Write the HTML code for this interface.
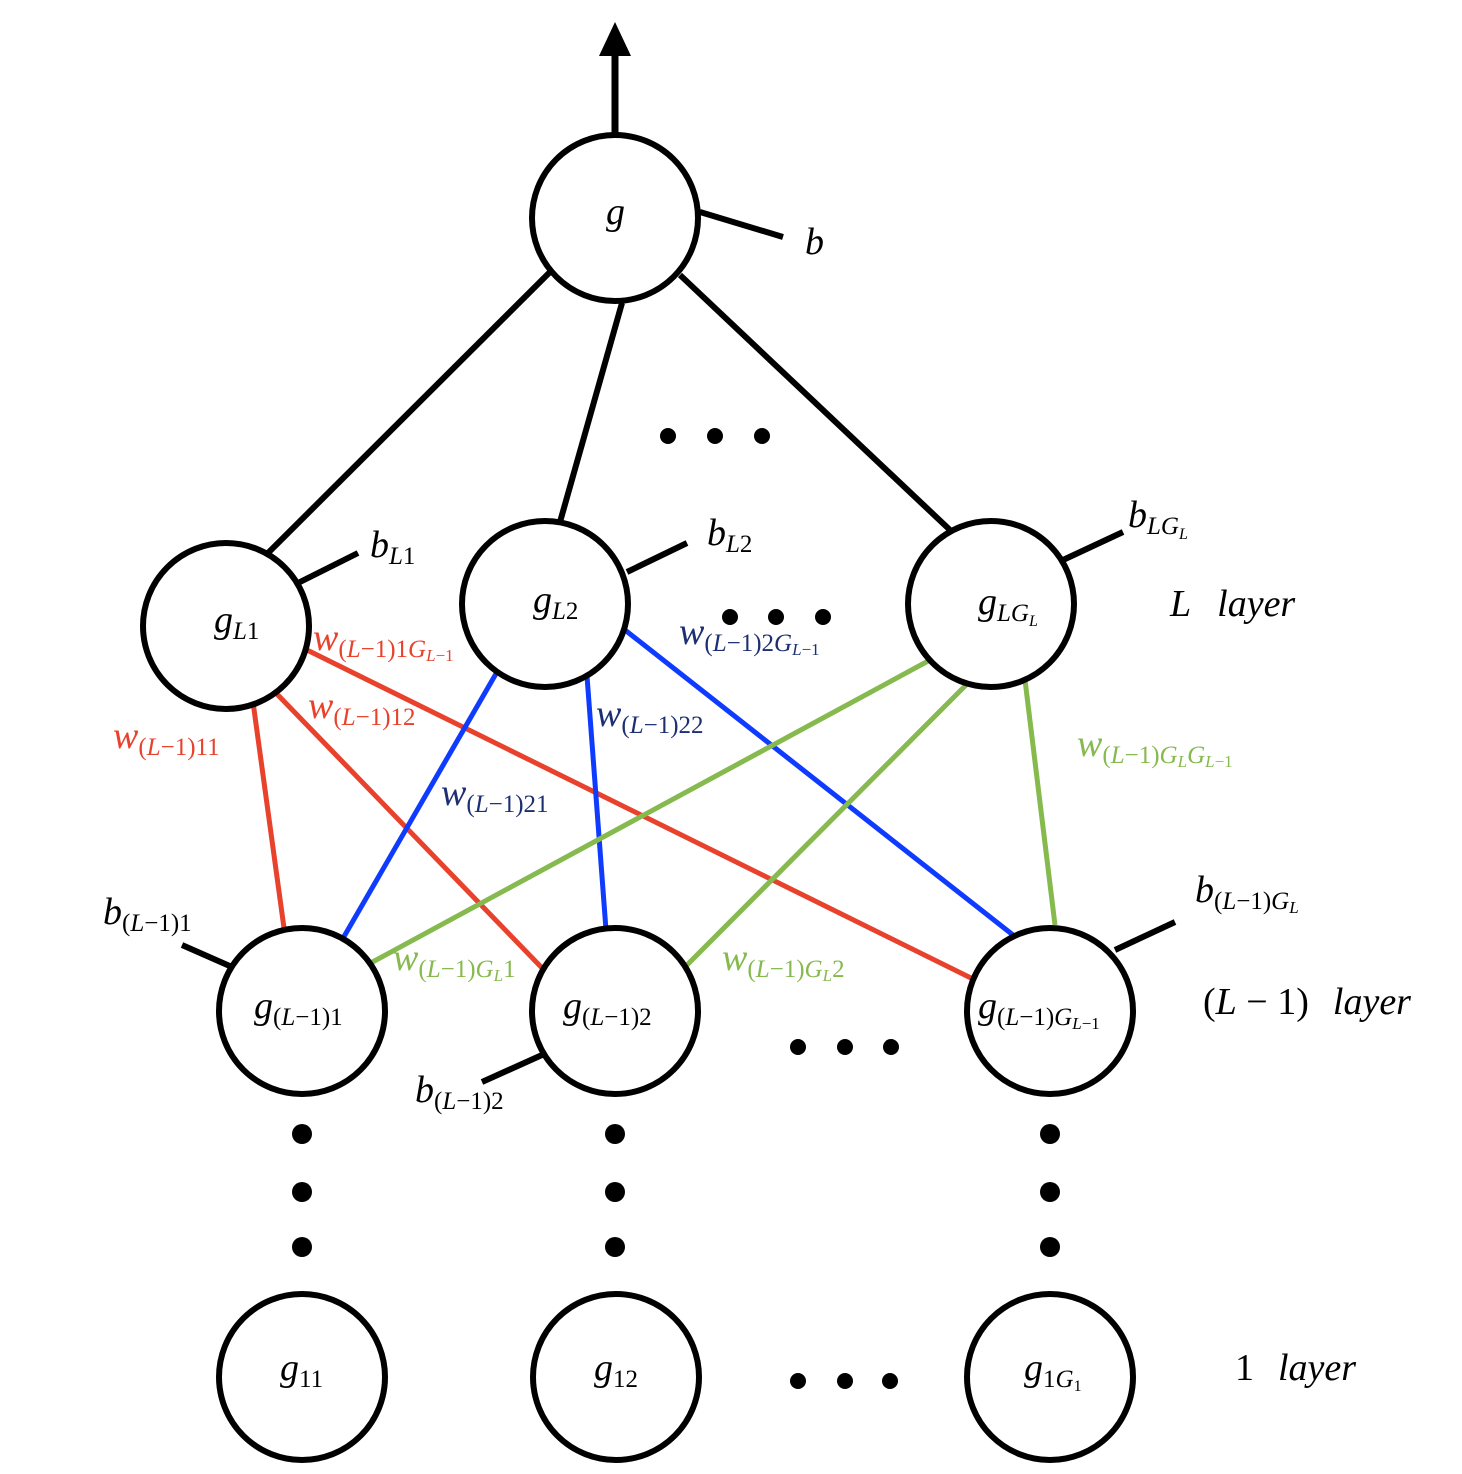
<!DOCTYPE html>
<html><head><meta charset="utf-8"><style>
html,body{margin:0;padding:0;background:#fff;}
svg{display:block;}
text{font-family:"Liberation Serif",serif;}
.m{font-style:italic;font-size:38px;}
.s{font-size:25px;}
.i{font-style:italic;}
.u{font-style:normal;}
.r{fill:#e8412c;} .n{fill:#1c2f73;} .gr{fill:#86b94e;}
</style></head><body>
<svg width="1462" height="1474" viewBox="0 0 1462 1474" xmlns="http://www.w3.org/2000/svg">
<g stroke-width="5" fill="none">
<line x1="615" y1="135" x2="615" y2="55" stroke="#000" stroke-width="7"/>
<g stroke="#000" stroke-width="6">
<line x1="550" y1="272" x2="268" y2="553"/>
<line x1="622" y1="303" x2="560" y2="522"/>
<line x1="680" y1="275" x2="950" y2="530"/>
<line x1="700" y1="212" x2="783" y2="237"/>
<line x1="298" y1="583" x2="358" y2="553"/>
<line x1="627" y1="572" x2="687" y2="543"/>
<line x1="1063" y1="560" x2="1123" y2="532"/>
<line x1="182" y1="945" x2="232" y2="967"/>
<line x1="482" y1="1082" x2="542" y2="1055"/>
<line x1="1115" y1="950" x2="1175" y2="922"/>
</g>
<line x1="253" y1="702" x2="284" y2="928" stroke="#e8412c"/>
<line x1="275" y1="692" x2="544" y2="970" stroke="#e8412c"/>
<line x1="303" y1="648" x2="975" y2="980" stroke="#e8412c"/>
<line x1="497" y1="672" x2="342" y2="940" stroke="#0f3bff"/>
<line x1="587" y1="676" x2="606" y2="930" stroke="#0f3bff"/>
<line x1="625" y1="630" x2="1013" y2="935" stroke="#0f3bff"/>
<line x1="930" y1="660" x2="367" y2="965" stroke="#86b94e"/>
<line x1="966" y1="685" x2="684" y2="968" stroke="#86b94e"/>
<line x1="1025" y1="680" x2="1055" y2="925" stroke="#86b94e"/>
</g>
<polygon points="615,22 599,56 631,56" fill="#000"/>
<g stroke="#000" stroke-width="6" fill="#fff">
<circle cx="615" cy="218" r="83"/>
<circle cx="226" cy="626" r="83"/>
<circle cx="545" cy="604" r="83"/>
<circle cx="991" cy="604" r="83"/>
<circle cx="302" cy="1011" r="83"/>
<circle cx="615" cy="1011" r="83"/>
<circle cx="1050" cy="1011" r="83"/>
<circle cx="302" cy="1377" r="83"/>
<circle cx="616" cy="1377" r="83"/>
<circle cx="1050" cy="1377" r="83"/>
</g>
<g fill="#000">
<circle cx="668" cy="436" r="8"/><circle cx="715" cy="436" r="8"/><circle cx="762" cy="436" r="8"/>
<circle cx="730" cy="617" r="8"/><circle cx="776" cy="617" r="8"/><circle cx="823" cy="617" r="8"/>
<circle cx="798" cy="1047" r="8"/><circle cx="845" cy="1047" r="8"/><circle cx="891" cy="1047" r="8"/>
<circle cx="798" cy="1381" r="8"/><circle cx="845" cy="1381" r="8"/><circle cx="890" cy="1381" r="8"/>
<circle cx="302" cy="1134" r="10"/><circle cx="302" cy="1192" r="10"/><circle cx="302" cy="1247" r="10"/>
<circle cx="615" cy="1134" r="10"/><circle cx="615" cy="1192" r="10"/><circle cx="615" cy="1247" r="10"/>
<circle cx="1050" cy="1134" r="10"/><circle cx="1050" cy="1192" r="10"/><circle cx="1050" cy="1247" r="10"/>
</g>
<text class="m" x="606" y="224">g</text>
<text class="m" x="805" y="254">b</text>
<text class="m" x="214" y="632">g<tspan class="s" dy="7">L<tspan class="u">1</tspan></tspan></text>
<text class="m" x="533" y="612">g<tspan class="s" dy="7">L<tspan class="u">2</tspan></tspan></text>
<text class="m" x="978" y="614">g<tspan class="s" dy="7">LG<tspan style="font-size:16px" dy="5">L</tspan></tspan></text>
<text class="m" x="370" y="557">b<tspan class="s" dy="7">L<tspan class="u">1</tspan></tspan></text>
<text class="m" x="707" y="545">b<tspan class="s" dy="7">L<tspan class="u">2</tspan></tspan></text>
<text class="m" x="1128" y="527">b<tspan class="s" dy="7">LG<tspan style="font-size:16px" dy="5">L</tspan></tspan></text>
<text class="m" x="254" y="1018">g<tspan class="s" dy="7"><tspan class="u">(</tspan>L<tspan class="u">−1)1</tspan></tspan></text>
<text class="m" x="563" y="1018">g<tspan class="s" dy="7"><tspan class="u">(</tspan>L<tspan class="u">−1)2</tspan></tspan></text>
<text class="m" x="978" y="1018">g<tspan class="s" dy="7"><tspan class="u">(</tspan>L<tspan class="u">−1)</tspan>G<tspan style="font-size:17px" dy="4">L<tspan class="u">−1</tspan></tspan></tspan></text>
<text class="m" x="103" y="924">b<tspan class="s" dy="7"><tspan class="u">(</tspan>L<tspan class="u">−1)1</tspan></tspan></text>
<text class="m" x="415" y="1102">b<tspan class="s" dy="7"><tspan class="u">(</tspan>L<tspan class="u">−1)2</tspan></tspan></text>
<text class="m" x="1195" y="902">b<tspan class="s" dy="7"><tspan class="u">(</tspan>L<tspan class="u">−1)</tspan>G<tspan style="font-size:17px" dy="4">L</tspan></tspan></text>
<text class="m" x="280" y="1380">g<tspan class="s u" dy="7">11</tspan></text>
<text class="m" x="594" y="1380">g<tspan class="s u" dy="7">12</tspan></text>
<text class="m" x="1024" y="1380">g<tspan class="s" dy="7"><tspan class="u">1</tspan>G<tspan class="u" style="font-size:16px" dy="4">1</tspan></tspan></text>
<text x="1170" y="616" style="font-size:38px;font-style:italic">L<tspan dx="26">layer</tspan></text>
<text x="1203" y="1014" style="font-size:38px">(<tspan class="i">L</tspan> − 1)<tspan dx="24" class="i">layer</tspan></text>
<text x="1235" y="1380" style="font-size:38px">1<tspan dx="24" class="i">layer</tspan></text>
<text class="m r" x="113" y="748">w<tspan class="s" dy="7"><tspan class="u">(</tspan>L<tspan class="u">−1)11</tspan></tspan></text>
<text class="m r" x="308" y="718">w<tspan class="s" dy="7"><tspan class="u">(</tspan>L<tspan class="u">−1)12</tspan></tspan></text>
<text class="m r" x="313" y="650">w<tspan class="s" dy="7"><tspan class="u">(</tspan>L<tspan class="u">−1)1</tspan>G<tspan style="font-size:17px" dy="4">L<tspan class="u">−1</tspan></tspan></tspan></text>
<text class="m n" x="441" y="805">w<tspan class="s" dy="7"><tspan class="u">(</tspan>L<tspan class="u">−1)21</tspan></tspan></text>
<text class="m n" x="596" y="726">w<tspan class="s" dy="7"><tspan class="u">(</tspan>L<tspan class="u">−1)22</tspan></tspan></text>
<text class="m n" x="679" y="644">w<tspan class="s" dy="7"><tspan class="u">(</tspan>L<tspan class="u">−1)2</tspan>G<tspan style="font-size:17px" dy="4">L<tspan class="u">−1</tspan></tspan></tspan></text>
<text class="m gr" x="1077" y="756">w<tspan class="s" dy="7"><tspan class="u">(</tspan>L<tspan class="u">−1)</tspan>G<tspan style="font-size:17px" dy="4">L</tspan><tspan dy="-4">G</tspan><tspan style="font-size:17px" dy="4">L<tspan class="u">−1</tspan></tspan></tspan></text>
<text class="m gr" x="393" y="970">w<tspan class="s" dy="7"><tspan class="u">(</tspan>L<tspan class="u">−1)</tspan>G<tspan style="font-size:17px" dy="4">L</tspan><tspan class="u" dy="-4">1</tspan></tspan></text>
<text class="m gr" x="722" y="970">w<tspan class="s" dy="7"><tspan class="u">(</tspan>L<tspan class="u">−1)</tspan>G<tspan style="font-size:17px" dy="4">L</tspan><tspan class="u" dy="-4">2</tspan></tspan></text>
</svg>
</body></html>
